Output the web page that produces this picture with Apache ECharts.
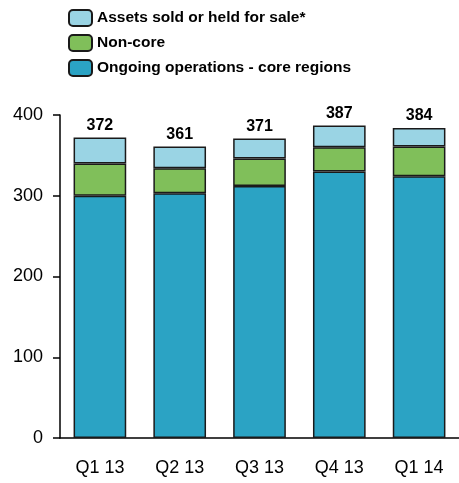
<!DOCTYPE html>
<html>
<head>
<meta charset="utf-8">
<script src="https://cdn.jsdelivr.net/npm/echarts@6/dist/echarts.min.js"></script>
<style>
  html, body { margin: 0; padding: 0; background: #fff; }
  #chart { width: 459px; height: 483px; }
</style>
</head>
<body>
<div id="chart"></div>
<script>
var quarters = ['Q1 13', 'Q2 13', 'Q3 13', 'Q4 13', 'Q1 14'];
var coreRegions = [300, 303, 312, 330, 324];
var nonCore = [40, 31, 34, 30, 37];
var assetsSold = [32, 27, 25, 27, 23];
var totals = [372, 361, 371, 387, 384];
var yTicks = [0, 100, 200, 300, 400];

var chart = echarts.init(document.getElementById('chart'));
var font = 'Liberation Sans, Arial, sans-serif';
var edge = { borderColor: '#1a1a1a', borderWidth: 1.5 };

var option = {
  animation: false,
  legend: {
    orient: 'vertical',
    left: 63,
    top: 4,
    itemWidth: 23,
    itemHeight: 16,
    itemGap: 7,
    data: ['Assets sold or held for sale*', 'Non-core', 'Ongoing operations - core regions'],
    textStyle: { fontFamily: font, fontSize: 15.5, fontWeight: 'bold', color: '#000' }
  },
  grid: { left: 60, right: 0, top: 115, bottom: 45 },
  xAxis: {
    type: 'category',
    data: quarters,
    axisLine: { lineStyle: { color: '#000', width: 1.5 } },
    axisTick: { show: false },
    axisLabel: { fontFamily: font, fontSize: 18, color: '#000', margin: 21 }
  },
  yAxis: {
    type: 'value',
    min: yTicks[0],
    max: yTicks[yTicks.length - 1],
    interval: 100,
    splitLine: { show: false },
    axisLine: { show: true, lineStyle: { color: '#000', width: 1.5 } },
    axisTick: { show: true, length: 7, lineStyle: { color: '#000', width: 1.5 } },
    axisLabel: { fontFamily: font, fontSize: 18, color: '#000', margin: 17 }
  },
  series: [
    {
      name: 'Ongoing operations - core regions',
      type: 'bar',
      stack: 'total',
      barWidth: '66%',
      data: coreRegions,
      itemStyle: Object.assign({ color: '#2ba3c4' }, edge)
    },
    {
      name: 'Non-core',
      type: 'bar',
      stack: 'total',
      data: nonCore,
      itemStyle: Object.assign({ color: '#80bf5a' }, edge)
    },
    {
      name: 'Assets sold or held for sale*',
      type: 'bar',
      stack: 'total',
      data: assetsSold,
      itemStyle: Object.assign({ color: '#9ad4e4' }, edge),
      label: {
        show: true,
        position: 'top',
        distance: 4,
        fontFamily: font,
        fontSize: 16,
        fontWeight: 'bold',
        color: '#000',
        formatter: function (p) { return totals[p.dataIndex]; }
      }
    }
  ]
};
chart.setOption(option);
</script>
</body>
</html>
